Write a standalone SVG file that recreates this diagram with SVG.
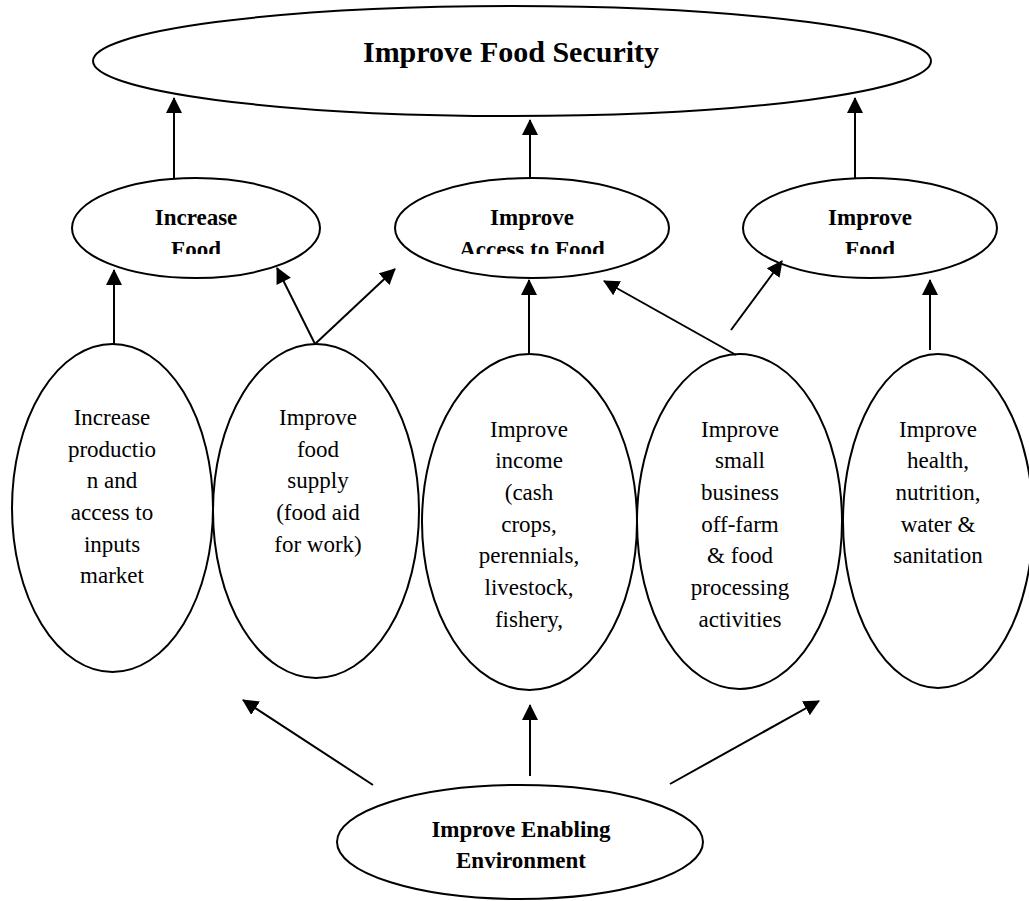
<svg xmlns="http://www.w3.org/2000/svg" width="1029" height="901" viewBox="0 0 1029 901">
<style>
.node{fill:#fff;stroke:#000;stroke-width:2}
.b{font-family:"Liberation Serif","Times New Roman",serif;font-weight:bold;font-size:23px;text-anchor:middle;fill:#000}
.t{font-family:"Liberation Serif","Times New Roman",serif;font-size:23px;text-anchor:middle;fill:#000}
.title{font-size:30px}
.edge{stroke:#000;stroke-width:2;fill:none;marker-end:url(#ah)}
</style>
<defs>
<marker id="ah" markerUnits="userSpaceOnUse" markerWidth="16" markerHeight="16" viewBox="0 0 16 16" refX="15" refY="8" orient="auto">
<path d="M0,0 L16,8 L0,16 Z" fill="#000"/>
</marker>
<clipPath id="clipMid"><rect x="0" y="170" width="1029" height="84"/></clipPath>
</defs>
<rect width="1029" height="901" fill="#fff"/>
<g id="n-food-security">
<ellipse class="node" cx="512" cy="61" rx="419" ry="55"/>
<text class="b title" x="511" y="62">Improve Food Security</text>
</g>
<g id="n-increase-food">
<ellipse class="node" cx="196" cy="228" rx="124" ry="50"/>
<g clip-path="url(#clipMid)"><text class="b" x="196" y="225">Increase</text><text class="b" x="196" y="257">Food</text></g>
</g>
<g id="n-access-food">
<ellipse class="node" cx="532" cy="228" rx="137" ry="50"/>
<g clip-path="url(#clipMid)"><text class="b" x="532" y="225">Improve</text><text class="b" x="532" y="257">Access to Food</text></g>
</g>
<g id="n-improve-food">
<ellipse class="node" cx="870" cy="228" rx="127" ry="50"/>
<g clip-path="url(#clipMid)"><text class="b" x="870" y="225">Improve</text><text class="b" x="870" y="257">Food</text></g>
</g>
<g id="n-production">
<ellipse class="node" cx="112.5" cy="508" rx="100.5" ry="164"/>
<text class="t" x="112" y="425">Increase</text>
<text class="t" x="112" y="457">productio</text>
<text class="t" x="112" y="488">n and</text>
<text class="t" x="112" y="520">access to</text>
<text class="t" x="112" y="552">inputs</text>
<text class="t" x="112" y="583">market</text>
</g>
<g id="n-food-supply">
<ellipse class="node" cx="316" cy="511" rx="103" ry="167"/>
<text class="t" x="318" y="425">Improve</text>
<text class="t" x="318" y="457">food</text>
<text class="t" x="318" y="488">supply</text>
<text class="t" x="318" y="520">(food aid</text>
<text class="t" x="318" y="552">for work)</text>
</g>
<g id="n-income">
<ellipse class="node" cx="529.5" cy="522" rx="107.5" ry="168"/>
<text class="t" x="529" y="437">Improve</text>
<text class="t" x="529" y="468">income</text>
<text class="t" x="529" y="500">(cash</text>
<text class="t" x="529" y="532">crops,</text>
<text class="t" x="529" y="563">perennials,</text>
<text class="t" x="529" y="595">livestock,</text>
<text class="t" x="529" y="627">fishery,</text>
</g>
<g id="n-small-business">
<ellipse class="node" cx="739.5" cy="521.5" rx="102.5" ry="167.5"/>
<text class="t" x="740" y="437">Improve</text>
<text class="t" x="740" y="468">small</text>
<text class="t" x="740" y="500">business</text>
<text class="t" x="740" y="532">off-farm</text>
<text class="t" x="740" y="563">&amp; food</text>
<text class="t" x="740" y="595">processing</text>
<text class="t" x="740" y="627">activities</text>
</g>
<g id="n-health">
<ellipse class="node" cx="938" cy="521" rx="95" ry="167"/>
<text class="t" x="938" y="437">Improve</text>
<text class="t" x="938" y="468">health,</text>
<text class="t" x="938" y="500">nutrition,</text>
<text class="t" x="938" y="532">water &amp;</text>
<text class="t" x="938" y="563">sanitation</text>
</g>
<g id="n-enabling">
<ellipse class="node" cx="520" cy="842" rx="183" ry="57"/>
<text class="b" x="521" y="837">Improve Enabling</text>
<text class="b" x="521" y="868">Environment</text>
</g>
<g id="connectors">
<line class="edge" x1="174" y1="178" x2="174" y2="98"/>
<line class="edge" x1="530" y1="178" x2="530" y2="120"/>
<line class="edge" x1="855" y1="178" x2="855" y2="98"/>
<line class="edge" x1="114" y1="344" x2="114" y2="270"/>
<line class="edge" x1="315" y1="344" x2="277" y2="268"/>
<line class="edge" x1="315" y1="344" x2="395" y2="269"/>
<line class="edge" x1="529" y1="354" x2="529" y2="280"/>
<line class="edge" x1="736" y1="355" x2="604" y2="281"/>
<line class="edge" x1="731" y1="330" x2="782" y2="261"/>
<line class="edge" x1="930" y1="350" x2="930" y2="280"/>
<line class="edge" x1="373" y1="785" x2="243" y2="700"/>
<line class="edge" x1="530" y1="776" x2="530" y2="705"/>
<line class="edge" x1="670" y1="784" x2="819" y2="701"/>
</g>
</svg>
